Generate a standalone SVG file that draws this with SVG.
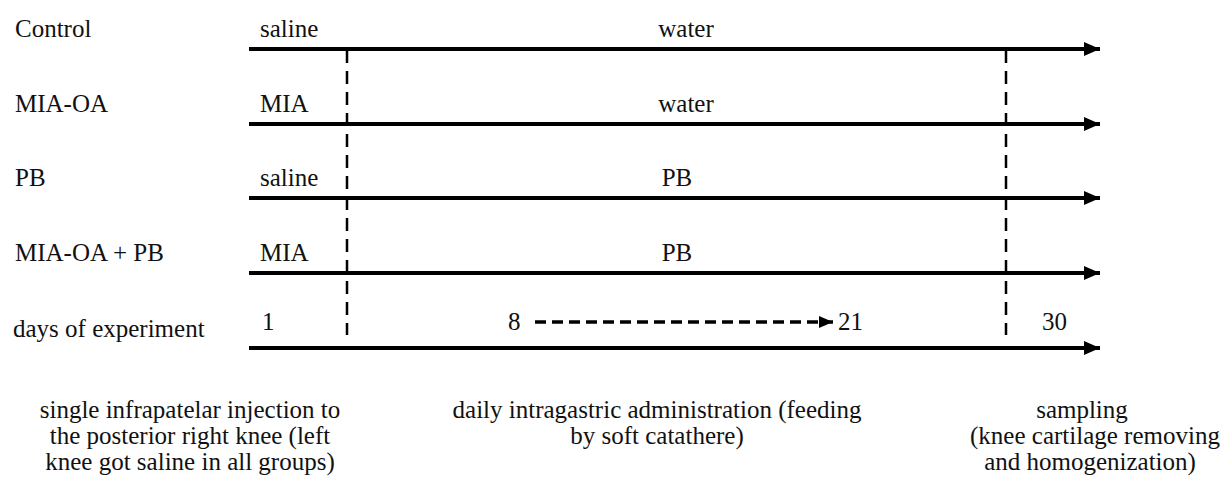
<svg xmlns="http://www.w3.org/2000/svg" width="1230" height="485" viewBox="0 0 1230 485">
<defs>
<style>
.t{font-family:'Times New Roman',Times,Tinos,'Noto Serif','Liberation Serif','DejaVu Serif',serif;font-size:25px;fill:#111}
.c{text-anchor:middle}
.tl{stroke:#000;stroke-width:4;fill:none}
.vd{stroke:#000;stroke-width:2.5;stroke-dasharray:13 8;fill:none}
.hd{stroke:#000;stroke-width:3.5;stroke-dasharray:11 6;fill:none}
</style>
<marker id="ah" viewBox="0 0 16 14" refX="16" refY="7" markerWidth="16" markerHeight="14" markerUnits="userSpaceOnUse" orient="auto">
<path d="M0,0 L16,7 L0,14 Z" fill="#000"/>
</marker>
<marker id="ahs" viewBox="0 0 14 12" refX="14" refY="6" markerWidth="14" markerHeight="12" markerUnits="userSpaceOnUse" orient="auto">
<path d="M0,0 L14,6 L0,12 Z" fill="#000"/>
</marker>
</defs>
<rect width="1230" height="485" fill="#fff"/>
<g id="connectors">
<line class="tl" x1="249" y1="49" x2="1100" y2="49" marker-end="url(#ah)"/>
<line class="tl" x1="249" y1="124" x2="1100" y2="124" marker-end="url(#ah)"/>
<line class="tl" x1="249" y1="198" x2="1100" y2="198" marker-end="url(#ah)"/>
<line class="tl" x1="249" y1="273" x2="1100" y2="273" marker-end="url(#ah)"/>
<line class="tl" x1="249" y1="348" x2="1100" y2="348" marker-end="url(#ah)"/>
<line class="vd" x1="347" y1="50" x2="347" y2="335"/>
<line class="vd" x1="1006" y1="50" x2="1006" y2="335"/>
<line class="hd" x1="535" y1="322" x2="833" y2="322" marker-end="url(#ahs)"/>
</g>
<g id="row-control">
<text class="t" x="15" y="37">Control</text>
<text class="t" x="260" y="37">saline</text>
<text class="t c" x="686" y="37">water</text>
</g>
<g id="row-mia-oa">
<text class="t" x="15" y="112">MIA-OA</text>
<text class="t" x="260" y="112">MIA</text>
<text class="t c" x="686" y="112">water</text>
</g>
<g id="row-pb">
<text class="t" x="15" y="186">PB</text>
<text class="t" x="260" y="186">saline</text>
<text class="t c" x="677" y="186">PB</text>
</g>
<g id="row-mia-oa-pb">
<text class="t" x="15" y="261">MIA-OA + PB</text>
<text class="t" x="260" y="261">MIA</text>
<text class="t c" x="677" y="261">PB</text>
</g>
<g id="row-days">
<text class="t" x="13" y="337">days of experiment</text>
<text class="t" x="262" y="330">1</text>
<text class="t" x="508" y="330">8</text>
<text class="t" x="838" y="330">21</text>
<text class="t" x="1042" y="330">30</text>
</g>
<g id="note-injection">
<text class="t c" x="190" y="418">single infrapatelar injection to</text>
<text class="t c" x="190" y="444">the posterior right knee (left</text>
<text class="t c" x="190" y="470">knee got saline in all groups)</text>
</g>
<g id="note-feeding">
<text class="t c" x="657" y="418">daily intragastric administration (feeding</text>
<text class="t c" x="657" y="444">by soft catathere)</text>
</g>
<g id="note-sampling">
<text class="t c" x="1082" y="418">sampling</text>
<text class="t c" x="1095" y="444">(knee cartilage removing</text>
<text class="t c" x="1090" y="470">and homogenization)</text>
</g>
</svg>
